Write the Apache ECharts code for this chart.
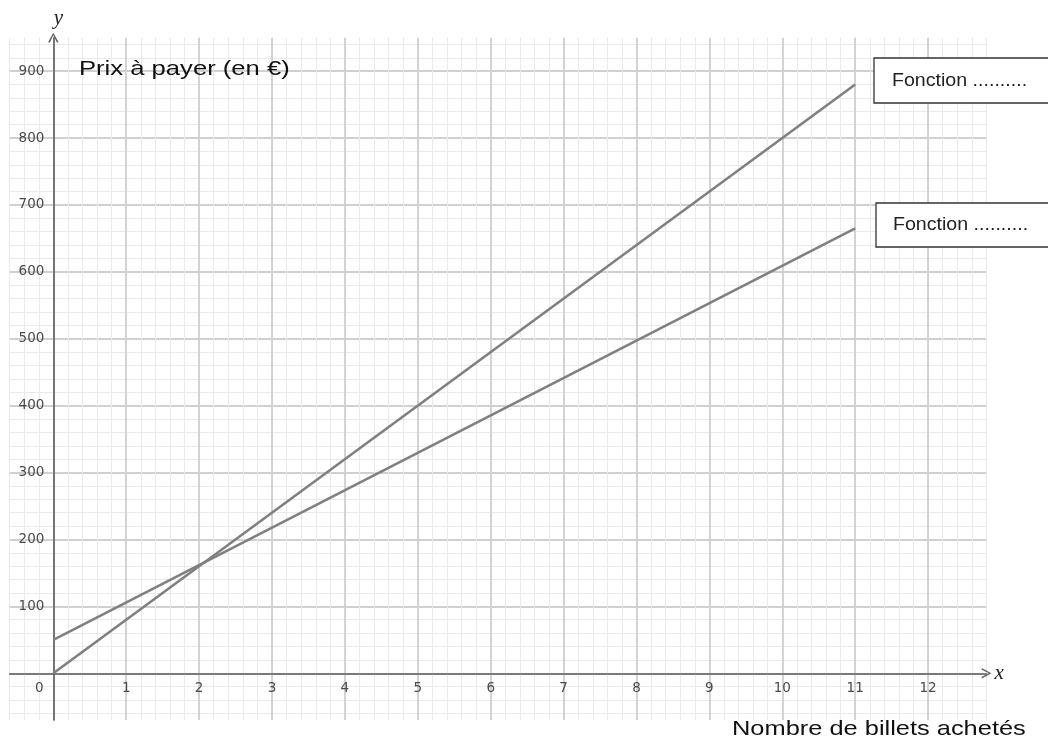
<!DOCTYPE html>
<html>
<head>
<meta charset="utf-8">
<script src="https://cdn.jsdelivr.net/npm/echarts@6/dist/echarts.min.js"></script>
<style>html,body{margin:0;padding:0;background:#fff}#c{width:1048px;height:740px}</style>
</head>
<body>
<div id="c"></div>
<script>
// Data
const lineA = [[0, 0], [11, 880]];     // upper line
const lineB = [[0, 50], [11, 665]];    // lower line
const xTickLabels = ['0','1','2','3','4','5','6','7','8','9','10','11','12'];
const yTickLabels = ['100','200','300','400','500','600','700','800','900'];
const yTitle = 'Prix à payer (en €)';
const xTitle = 'Nombre de billets achetés';
const boxLabels = ['Fonction ..........', 'Fonction ..........'];

const T = 'rgba(0,0,0,0)';
const MINOR = '#eaeaea';
const MAJOR = '#d0d0d0';
const AX = '#5e5e5e';
const LBL = '#4a4a4a';
const arrowPath = 'path://M0,9 L5,0 L10,9 L8.6,9.8 L5,2.6 L1.4,9.8 Z';

const chart = echarts.init(document.getElementById('c'));
const xMin = -0.6, xMax = 12.8, yMin = -70, yMax = 950;
const G = { left: 9.6, right: 61.6, top: 37.7, bottom: 19.9 };
const plotW = 1048 - G.left - G.right, plotH = 740 - G.top - G.bottom;
// axis offsets so the axes sit at x=0 / y=0 (computed from the scales)
const xAxisOffset = -plotH * (0 - yMin) / (yMax - yMin);
const yAxisOffset = -plotW * (0 - xMin) / (xMax - xMin);

function isInt(v) { return Math.abs(v - Math.round(v)) < 1e-6; }

const option = {
  animation: false,
  backgroundColor: '#fff',
  grid: { left: G.left, right: G.right, top: G.top, bottom: G.bottom, containLabel: false, outerBoundsMode: 'none' },
  xAxis: [
    {
      type: 'value', min: xMin, max: xMax, interval: 0.2, position: 'bottom', offset: xAxisOffset,
      name: 'x', nameLocation: 'end', nameGap: 8,
      nameTextStyle: { fontFamily: 'Liberation Serif', fontStyle: 'italic', fontSize: 21, color: '#222', verticalAlign: 'middle', padding: [0,0,4,0] },
      axisLine: { show: true, onZero: false, symbol: ['none', arrowPath], symbolSize: [11, 10], lineStyle: { color: AX, width: 1.6 } },
      axisTick: { show: false },
      axisLabel: {
        margin: 8, color: LBL, fontFamily: 'DejaVu Sans', fontSize: 13.5,
        formatter: function (v) {
          if (!isInt(v)) return '';
          const r = Math.round(v);
          const s = xTickLabels[r];
          if (s === undefined) return '';
          return r === 0 ? '{o|' + s + '}' : s;
        },
        rich: { o: { padding: [0, 28, 0, 0], color: LBL, fontFamily: 'DejaVu Sans', fontSize: 13.5 } }
      },
      splitLine: { show: true, lineStyle: { color: MINOR, width: 1 } }
    },
    {
      type: 'value', min: xMin, max: xMax, interval: 0.2, position: 'top',
      axisLine: { show: false, onZero: false }, axisTick: { show: false }, axisLabel: { show: false },
      splitLine: { show: true, lineStyle: { color: [T, T, T, MAJOR, T], width: 1.8 } }
    }
  ],
  yAxis: [
    {
      type: 'value', min: yMin, max: yMax, interval: 10, position: 'left', offset: yAxisOffset,
      name: 'y', nameLocation: 'end', nameGap: 9,
      nameTextStyle: { fontFamily: 'Liberation Serif', fontStyle: 'italic', fontSize: 21, color: '#222', padding: [0, 0, 0, 10] },
      axisLine: { show: true, onZero: false, symbol: ['none', arrowPath], symbolSize: [11, 10], lineStyle: { color: AX, width: 1.6 } },
      axisTick: { show: false },
      axisLabel: {
        margin: 9, color: LBL, fontFamily: 'DejaVu Sans', fontSize: 13.5,
        formatter: function (v) {
          const r = Math.round(v);
          if (r % 100 !== 0 || r <= 0) return '';
          const s = yTickLabels[r / 100 - 1];
          return s === undefined ? '' : s;
        }
      },
      splitLine: { show: true, lineStyle: { color: [T, MINOR, T, MINOR, T, MINOR, T, MINOR, T, MINOR], width: 1 } }
    },
    {
      type: 'value', min: yMin, max: yMax, interval: 10, position: 'right',
      axisLine: { show: false, onZero: false }, axisTick: { show: false }, axisLabel: { show: false },
      splitLine: { show: true, lineStyle: { color: [T, T, T, T, T, T, T, MAJOR, T, T], width: 1.8 } }
    }
  ],
  series: [
    { type: 'line', data: lineA, xAxisIndex: 0, yAxisIndex: 0, showSymbol: false, symbol: 'none',
      lineStyle: { color: '#808080', width: 2.6 }, z: 5 },
    { type: 'line', data: lineB, xAxisIndex: 0, yAxisIndex: 0, showSymbol: false, symbol: 'none',
      lineStyle: { color: '#808080', width: 2.6 }, z: 5 }
  ],
  graphic: [
    { type: 'text', x: 79, y: 69, scaleX: 1.22, z: 20,
      style: { text: yTitle, font: '21px "Liberation Sans"', fill: '#111', textAlign: 'left', textVerticalAlign: 'middle' } },
    { type: 'text', x: 732, y: 729, scaleX: 1.21, z: 20,
      style: { text: xTitle, font: '21px "Liberation Sans"', fill: '#111', textAlign: 'left', textVerticalAlign: 'middle' } },
    { type: 'rect', shape: { x: 874, y: 58, width: 220, height: 45 }, z: 20,
      style: { fill: '#fff', stroke: '#333', lineWidth: 1.3 } },
    { type: 'rect', shape: { x: 876, y: 203, width: 220, height: 44 }, z: 20,
      style: { fill: '#fff', stroke: '#333', lineWidth: 1.3 } },
    { type: 'text', x: 892, y: 81, scaleX: 1.12, z: 21,
      style: { text: boxLabels[0], font: '17.5px "Liberation Sans"', fill: '#222', textAlign: 'left', textVerticalAlign: 'middle' } },
    { type: 'text', x: 893, y: 225, scaleX: 1.12, z: 21,
      style: { text: boxLabels[1], font: '17.5px "Liberation Sans"', fill: '#222', textAlign: 'left', textVerticalAlign: 'middle' } }
  ]
};
chart.setOption(option);
</script>
</body>
</html>
